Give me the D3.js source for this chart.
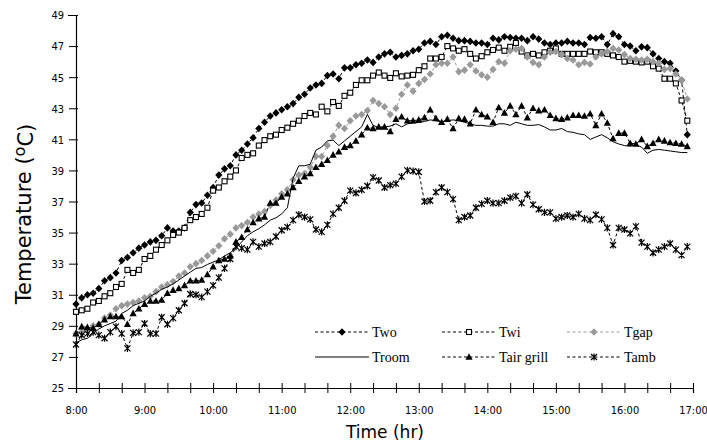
<!DOCTYPE html>
<html>
<head>
<meta charset="utf-8">
<script src="https://cdn.jsdelivr.net/npm/d3@7"></script>
<style>
html,body{margin:0;padding:0;background:#fff;}
svg{display:block;}
</style>
</head>
<body>
<svg id="chart" width="707" height="443"></svg>
<script>
// ---- data (5-minute samples from 8:00 to 16:55) ----
const startHour = 8;
const stepMinutes = 5;
const yTicks = [25,27,29,31,33,35,37,39,41,43,45,47,49];
const xTickHours = [8,9,10,11,12,13,14,15,16,17];
const seriesNames = ["Two","Twi","Tgap","Troom","Tair grill","Tamb"];

const two = [30.4,30.8,31.0,31.1,31.4,31.9,32.1,32.4,33.2,33.4,33.7,34.0,
34.2,34.4,34.5,34.8,35.3,35.1,35.1,35.3,36.3,36.8,36.9,37.4,
37.9,38.7,39.1,39.3,40.0,40.3,40.7,41.1,41.7,42.1,42.5,42.7,
42.9,43.1,43.3,43.7,43.9,44.3,44.5,44.6,45.1,45.2,44.9,45.6,
45.6,45.8,45.9,46.1,45.95,46.3,46.5,46.6,46.3,46.4,46.5,46.7,
46.8,47.2,47.3,47.1,47.6,47.7,47.5,47.35,47.35,47.3,47.2,47.2,
47.1,47.5,47.4,47.6,47.55,47.5,47.5,47.35,47.6,47.45,47.2,47.1,
47.2,47.2,47.3,47.2,47.2,47.1,47.55,47.5,47.6,47.1,47.8,47.6,
47.1,47.0,46.7,46.95,46.9,46.5,46.2,46.0,45.9,45.4,44.8,41.3];

const twi = [29.9,30.0,30.1,30.5,30.6,30.9,31.1,31.5,31.7,32.6,32.4,32.6,
33.3,33.5,33.9,34.2,34.5,34.85,35.0,35.3,35.8,36.0,36.2,36.6,
37.7,37.9,38.3,38.6,39.0,39.8,40.0,40.1,40.6,40.95,41.2,41.3,
41.6,41.75,42.0,42.2,42.5,42.7,42.6,43.1,42.8,43.4,43.15,43.8,
44.0,44.5,44.8,44.8,45.1,45.3,45.1,44.95,45.25,45.05,45.1,45.15,
45.45,45.7,46.2,46.2,46.3,47.0,46.85,46.7,46.8,46.5,46.2,46.35,
46.6,46.75,46.9,46.7,46.95,47.2,46.65,46.4,46.5,46.4,46.6,46.7,
46.85,46.5,46.5,46.5,46.5,46.5,46.65,46.6,46.6,46.5,46.4,46.3,
46.0,46.05,46.0,45.95,46.0,45.7,45.55,44.9,44.9,44.6,43.5,42.2];

const tgap = [28.5,28.6,28.8,29.0,29.1,29.5,29.7,30.1,30.3,30.4,30.5,30.6,
30.8,30.9,31.2,31.5,31.65,31.85,32.2,32.4,32.8,33.0,33.2,33.5,
33.8,34.15,34.6,34.9,35.3,35.45,35.65,36.0,36.2,36.35,36.75,37.1,
37.5,37.75,38.4,38.7,38.8,39.2,39.9,39.9,40.6,41.2,41.9,41.7,
42.2,42.5,42.6,42.85,43.5,43.3,43.1,42.6,43.0,43.9,44.5,44.1,
44.6,44.85,45.2,45.8,45.9,45.9,46.3,45.35,45.45,45.8,45.4,45.15,
45.0,45.5,46.0,45.9,46.7,46.8,46.85,46.3,45.95,45.8,46.3,46.6,
46.65,46.45,46.2,46.1,45.8,45.95,45.85,46.3,46.5,46.65,46.85,46.75,
46.45,46.2,46.15,46.1,46.15,46.0,45.9,45.5,45.55,45.2,44.8,43.6];

const troom = [27.9,28.1,28.2,28.5,28.8,29.0,29.15,29.3,29.8,30.0,30.3,30.45,
30.6,30.9,31.1,31.35,31.5,31.7,31.95,32.2,32.45,32.7,32.75,32.95,
33.1,33.25,33.5,33.7,34.0,34.4,34.8,35.05,35.25,35.5,35.8,35.95,
36.2,36.6,38.5,39.3,39.3,39.4,40.3,40.5,40.9,40.95,40.6,40.9,
41.2,41.5,41.8,42.6,41.9,41.75,41.8,41.85,42.0,41.8,42.0,42.05,
42.1,42.15,42.25,42.2,42.1,42.2,42.25,42.2,42.1,42.0,41.9,41.9,
41.85,41.85,42.0,42.0,41.9,42.1,42.0,41.9,41.9,41.95,41.8,41.6,
41.6,41.7,41.5,41.45,41.35,41.3,41.0,41.15,41.3,41.1,40.85,40.7,
40.6,40.55,40.65,40.5,40.1,40.3,40.35,40.3,40.25,40.2,40.15,40.15];

const tairGrill = [28.5,28.95,28.9,28.85,29.1,29.4,29.6,29.6,29.6,29.1,29.8,30.1,
30.4,30.6,30.6,30.66,31.1,31.3,31.4,31.6,31.9,31.9,31.95,32.3,
32.8,33.2,33.3,33.5,34.4,34.7,35.2,35.65,35.9,36.0,36.9,36.9,
37.3,37.5,37.9,38.3,38.6,38.8,39.2,39.4,39.65,40.0,40.2,40.5,
40.6,40.9,41.3,41.75,41.7,41.8,41.8,41.5,42.3,42.45,42.2,42.2,
42.25,42.4,42.9,42.35,42.1,42.3,41.7,42.35,42.3,42.0,42.9,42.6,
42.45,42.1,43.05,42.7,43.15,42.6,43.15,42.4,43.0,42.85,42.9,42.55,
42.35,42.3,42.4,42.55,42.55,42.5,42.65,41.9,42.65,42.05,41.05,41.4,
41.4,40.75,40.7,41.0,40.55,40.75,41.0,40.9,40.8,40.75,40.7,40.55];

const tamb = [27.8,28.4,28.5,28.6,28.4,28.2,28.6,28.95,28.5,27.55,28.55,28.6,
29.15,28.5,28.5,29.55,29.1,29.5,30.0,30.45,31.05,31.0,30.85,31.2,
31.6,32.1,32.7,33.3,34.1,34.0,33.9,34.4,34.1,34.3,34.4,34.75,
35.15,35.35,35.8,36.15,36.0,35.85,35.2,35.05,35.5,36.2,36.6,37.05,
37.7,37.55,37.75,38.0,38.55,38.35,37.9,38.05,38.15,38.6,39.0,38.95,
38.9,37.0,37.05,37.6,37.9,37.6,37.15,35.8,36.0,36.1,36.6,36.85,
37.05,36.9,36.9,37.05,37.25,37.35,36.9,37.45,36.8,36.5,36.3,36.3,
35.9,36.0,36.1,36.0,36.2,35.9,35.8,36.15,35.85,35.3,34.2,35.3,
35.2,34.95,35.4,34.35,34.1,33.7,33.9,34.1,34.3,33.9,33.55,34.1];

// ---- layout ----
const svg = d3.select("#chart");
const x = d3.scaleLinear().domain([8,17]).range([76,693]);
const y = d3.scaleLinear().domain([25,49]).range([388,15]);
const times = two.map((_, i) => startHour + i * stepMinutes / 60);

const GRAY = "#999999";
const series = [
  {name: seriesNames[0], values: two, color: "#000", marker: "diamond", dash: "3,2.5"},
  {name: seriesNames[1], values: twi, color: "#000", marker: "square", dash: "3,2.5"},
  {name: seriesNames[2], values: tgap, color: GRAY, marker: "diamond", dash: "3,2.5"},
  {name: seriesNames[3], values: troom, color: "#000", marker: "none", dash: null},
  {name: seriesNames[4], values: tairGrill, color: "#000", marker: "triangle", dash: "3,2.5"},
  {name: seriesNames[5], values: tamb, color: "#000", marker: "star", dash: "3,2.5"}
];

function drawMarker(g, type, color) {
  if (type === "diamond") {
    g.append("path").attr("d", "M0,-3.8L3.6,0L0,3.8L-3.6,0Z").attr("fill", color);
  } else if (type === "square") {
    g.append("rect").attr("x", -2.5).attr("y", -2.5).attr("width", 5).attr("height", 5)
      .attr("fill", "#fff").attr("stroke", color).attr("stroke-width", 1.1);
  } else if (type === "triangle") {
    g.append("path").attr("d", "M0,-3.8L3.6,2.8L-3.6,2.8Z").attr("fill", color);
  } else if (type === "star") {
    g.append("path").attr("d", "M-3,-3L3,3M-3,3L3,-3M0,-3.6L0,3.6")
      .attr("stroke", color).attr("stroke-width", 1.2).attr("fill", "none");
  }
}

// axes
const yAxis = d3.axisLeft(y).tickValues(yTicks).tickFormat(d3.format("d")).tickSize(8).tickPadding(4);
const yG = svg.append("g").attr("transform", "translate(76,0)").call(yAxis);
yG.selectAll(".tick line").attr("x1", 2).attr("x2", -7);

const minorX = d3.range(0, 28).map(i => 8 + i / 3);
const xAxis = d3.axisBottom(x).tickValues(minorX)
  .tickFormat(d => (Math.abs(d - Math.round(d)) < 1e-6 && xTickHours.includes(Math.round(d))) ? Math.round(d) + ":00" : "")
  .tickSize(5).tickPadding(13);
const xG = svg.append("g").attr("transform", "translate(0,388)").call(xAxis);
xG.selectAll(".tick line").attr("y1", -5).attr("y2", 5);

[yG, xG].forEach(g => {
  g.select(".domain").attr("stroke", "#000").attr("stroke-width", 1.2);
  g.selectAll(".tick line").attr("stroke", "#000");
  g.selectAll("text").attr("font-family", "'DejaVu Sans Condensed', 'Liberation Sans', sans-serif")
    .attr("font-size", "11px").attr("fill", "#000");
});
yG.selectAll("text").attr("dy", "0.35em");

// axis titles
svg.append("text").attr("x", 385).attr("y", 438).attr("text-anchor", "middle")
  .attr("font-family", "'DejaVu Sans', Verdana, sans-serif").attr("font-size", "17px")
  .text("Time (hr)");
const yt = svg.append("text").attr("transform", "translate(31,214) rotate(-90)")
  .attr("text-anchor", "middle")
  .attr("font-family", "'DejaVu Sans', Verdana, sans-serif").attr("font-size", "21px");
yt.append("tspan").text("Temperature (");
yt.append("tspan").attr("dy", "-0.35em").attr("font-size", "16px").text("o");
yt.append("tspan").attr("dy", "0.35em").text("C)");

// series
const lineGen = d3.line().x((d, i) => x(times[i])).y(d => y(d));
const plot = svg.append("g");
series.forEach(s => {
  plot.append("path").datum(s.values).attr("d", lineGen)
    .attr("fill", "none").attr("stroke", s.color).attr("stroke-width", 1)
    .attr("stroke-dasharray", s.dash);
  if (s.marker !== "none") {
    s.values.forEach((v, i) => {
      const g = plot.append("g").attr("transform", `translate(${x(times[i])},${y(v)})`);
      drawMarker(g, s.marker, s.color);
    });
  }
});

// legend
const legendPos = [[315,332],[442,332],[567,332],[315,357],[442,357],[567,357]];
series.forEach((s, k) => {
  const [lx, ly] = legendPos[k];
  const g = svg.append("g").attr("transform", `translate(${lx},${ly})`);
  g.append("line").attr("x1", 0).attr("x2", 54).attr("y1", 0).attr("y2", 0)
    .attr("stroke", s.color).attr("stroke-width", 1).attr("stroke-dasharray", s.dash);
  if (s.marker !== "none") {
    const m = g.append("g").attr("transform", "translate(27,0)");
    drawMarker(m, s.marker, s.color);
  }
  g.append("text").attr("x", 57).attr("y", 0).attr("dy", "0.35em")
    .attr("font-family", "'Liberation Serif', 'Times New Roman', serif").attr("font-size", "14px")
    .text(s.name);
});
</script>
</body>
</html>
